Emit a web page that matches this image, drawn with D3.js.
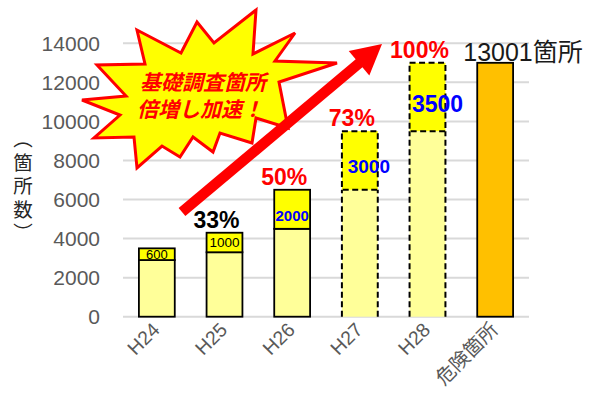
<!DOCTYPE html>
<html>
<head>
<meta charset="utf-8">
<script src="https://cdn.jsdelivr.net/npm/d3@7"></script>
<style>
  html, body { margin: 0; padding: 0; background: #fff; }
  svg { display: block; }
</style>
</head>
<body>
<svg id="chart" width="589" height="403"></svg>
<script>
// ---- data ----
const categories = ["H24", "H25", "H26", "H27", "H28", "危険箇所"];
const surveyed   = [2900, 3300, 4500, 6500, 9500];      // completed survey sites before the year's addition
const added      = [600, 1000, 2000, 3000, 3500];       // sites added in the year
const planned    = [false, false, false, true, true];   // planned years (dashed outline)
const rateLabels = ["", "33%", "50%", "73%", "100%"];
const hazardTotal = 13001;
const yTicks = [0, 2000, 4000, 6000, 8000, 10000, 12000, 14000];
const yTitle = "（箇所数）";

// ---- label styles ----
const addedLabelStyle = [
  { size: 13,   weight: "normal", color: "#000",    dx: 0,  dy: 5 },
  { size: 13.5, weight: "normal", color: "#000",    dx: 0,  dy: 4.5 },
  { size: 15,   weight: "bold",   color: "#0000ff", dx: 0,  dy: 11.5 },
  { size: 19,   weight: "bold",   color: "#0000ff", dx: 9,  dy: 12.8 },
  { size: 23,   weight: "bold",   color: "#0000ff", dx: 10, dy: 14.7 }
];
const rateColor = ["#000", "#000", "#ff0000", "#ff0000", "#ff0000"];

const latin = "'Liberation Sans', Arial, sans-serif";
const cjk = "'Liberation Sans', 'Noto Sans CJK JP', sans-serif";

const svg = d3.select("#chart");

const x = d3.scaleBand()
  .domain(categories)
  .range([123, 529])
  .paddingInner(0.47)
  .paddingOuter(0.235);

const y = d3.scaleLinear()
  .domain([0, 14000])
  .range([316.7, 43.3]);

const bw = x.bandwidth();

// gridlines
svg.append("g").selectAll("line")
  .data(yTicks)
  .join("line")
  .attr("x1", 123).attr("x2", 529)
  .attr("y1", d => y(d)).attr("y2", d => y(d))
  .attr("stroke", "#d9d9d9")
  .attr("stroke-width", 2);

// y tick labels
svg.append("g").selectAll("text")
  .data(yTicks)
  .join("text")
  .attr("x", 100)
  .attr("y", d => y(d) + 7.5)
  .attr("text-anchor", "end")
  .attr("font-family", latin)
  .attr("font-size", 21)
  .attr("fill", "#595959")
  .text(d => d);

// y axis title in vertical writing
svg.append("text")
  .attr("x", 23)
  .attr("y", 188)
  .attr("text-anchor", "middle")
  .attr("font-family", "'Noto Sans CJK JP', sans-serif")
  .attr("font-size", 19.5)
  .attr("letter-spacing", 4)
  .attr("fill", "#262626")
  .style("writing-mode", "vertical-rl")
  .text(yTitle);

// survey bars
const bars = svg.append("g");
categories.slice(0, 5).forEach((c, i) => {
  const x0 = x(c);
  const base = surveyed[i];
  const top = base + added[i];
  const dash = planned[i] ? "6,3.5" : null;

  // completed part
  bars.append("rect")
    .attr("x", x0).attr("width", bw)
    .attr("y", y(base)).attr("height", y(0) - y(base))
    .attr("fill", "#ffff99")
    .attr("stroke", planned[i] ? "none" : "#000")
    .attr("stroke-width", 1.8);
  if (planned[i]) {
    bars.append("path")
      .attr("d", `M${x0},${y(0)}V${y(base)}M${x0 + bw},${y(0)}V${y(base)}`)
      .attr("fill", "none")
      .attr("stroke", "#000")
      .attr("stroke-width", 2)
      .attr("stroke-dasharray", dash);
  }

  // added part
  bars.append("rect")
    .attr("x", x0).attr("width", bw)
    .attr("y", y(top)).attr("height", y(base) - y(top))
    .attr("fill", "#ffff00")
    .attr("stroke", "#000")
    .attr("stroke-width", planned[i] ? 2 : 1.8)
    .attr("stroke-dasharray", dash);

  // added value label
  const s = addedLabelStyle[i];
  bars.append("text")
    .attr("x", x0 + bw / 2 + s.dx)
    .attr("y", y(base + added[i] / 2) + s.dy)
    .attr("text-anchor", "middle")
    .attr("font-family", latin)
    .attr("font-size", s.size)
    .attr("font-weight", s.weight)
    .attr("fill", s.color)
    .text(added[i]);

  // cumulative rate label
  if (rateLabels[i]) {
    bars.append("text")
      .attr("x", x0 + bw / 2 - 8)
      .attr("y", y(top) - 5)
      .attr("text-anchor", "middle")
      .attr("font-family", latin)
      .attr("font-size", 23)
      .attr("font-weight", "bold")
      .attr("fill", rateColor[i])
      .text(rateLabels[i]);
  }
});

// hazard total bar
const hx = x(categories[5]);
bars.append("rect")
  .attr("x", hx).attr("width", bw)
  .attr("y", y(hazardTotal)).attr("height", y(0) - y(hazardTotal))
  .attr("fill", "#ffc000")
  .attr("stroke", "#000")
  .attr("stroke-width", 1.8);
bars.append("text")
  .attr("x", hx - 14)
  .attr("y", y(hazardTotal) - 2)
  .attr("font-family", cjk)
  .attr("font-size", 25)
  .attr("fill", "#1a1a1a")
  .text(hazardTotal + "箇所");

// category labels
svg.append("g").selectAll("text")
  .data(categories)
  .join("text")
  .attr("transform", d => `translate(${x(d) + bw / 2 + 4},${331}) rotate(-45)`)
  .attr("text-anchor", "end")
  .attr("font-family", cjk)
  .attr("font-size", 19.5)
  .attr("fill", "#595959")
  .text(d => d);

// burst callout
const burstOutline = [
  [256, 10], [253, 54], [295, 33], [275, 61], [337, 63], [279, 82],
  [288, 128], [256, 118], [252, 143], [220, 133], [213, 152], [193, 137],
  [180, 157], [162, 146], [137, 168], [134, 137], [94, 138], [120, 115],
  [82, 100], [126, 96], [97, 65], [145, 64], [137, 30], [181, 53],
  [197, 22], [214, 43]
];
svg.append("polygon")
  .attr("points", burstOutline.map(p => p.join(",")).join(" "))
  .attr("fill", "#ffff00")
  .attr("stroke", "#ff0000")
  .attr("stroke-width", 3)
  .attr("stroke-linejoin", "miter");

const burstText = svg.append("text")
  .attr("text-anchor", "middle")
  .attr("font-family", "'Noto Sans CJK JP', sans-serif")
  .attr("font-size", 21)
  .attr("font-weight", "bold")
  .attr("font-style", "italic")
  .attr("fill", "#ff0000");
burstText.append("tspan").attr("x", 203).attr("y", 90).text("基礎調査箇所");
burstText.append("tspan").attr("x", 200).attr("y", 117).text("倍増し加速！");

// growth arrow
const start = [182, 212], tip = [382, 44];
const len = Math.hypot(tip[0] - start[0], tip[1] - start[1]);
const ux = (tip[0] - start[0]) / len, uy = (tip[1] - start[1]) / len;
const nx = -uy, ny = ux;
const headLen = 30, headHalf = 16;
const bc = [tip[0] - ux * headLen, tip[1] - uy * headLen];
svg.append("line")
  .attr("x1", start[0]).attr("y1", start[1])
  .attr("x2", bc[0] + ux * 2).attr("y2", bc[1] + uy * 2)
  .attr("stroke", "#ff0000")
  .attr("stroke-width", 10.5);
svg.append("polygon")
  .attr("points", [
    tip,
    [bc[0] + nx * headHalf, bc[1] + ny * headHalf],
    [bc[0] - nx * headHalf, bc[1] - ny * headHalf]
  ].map(p => p.join(",")).join(" "))
  .attr("fill", "#ff0000");
</script>
</body>
</html>
